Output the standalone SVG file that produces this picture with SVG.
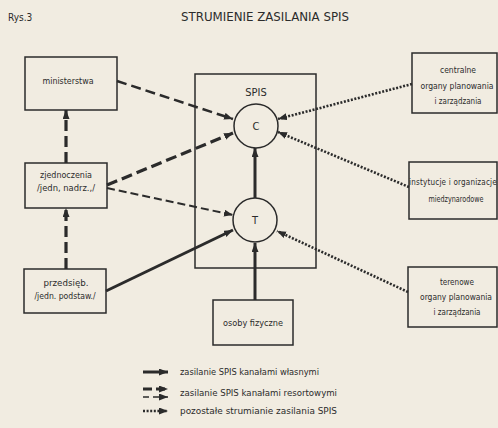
<svg xmlns="http://www.w3.org/2000/svg" width="498" height="428" viewBox="0 0 498 428">
<style>
.bg{fill:#f1ece1}
.box{fill:none;stroke:#2b2b2b;stroke-width:1.5}
.t{font-family:"Liberation Sans Narrow","DejaVu Sans Condensed","Liberation Sans",sans-serif;font-size:9px;fill:#2b2b2b;text-anchor:middle}
.tl{font-family:"Liberation Sans Narrow","DejaVu Sans Condensed","Liberation Sans",sans-serif;font-size:9px;fill:#2b2b2b}
.solid{fill:none;stroke:#2b2b2b;stroke-width:3;marker-end:url(#ah)}
.dash{fill:none;stroke:#2b2b2b;stroke-width:2.5;stroke-dasharray:10 5;marker-end:url(#ah)}
.dashb{fill:none;stroke:#2b2b2b;stroke-width:3.2;stroke-dasharray:11 5;marker-end:url(#ah)}
.dasht{fill:none;stroke:#2b2b2b;stroke-width:2;stroke-dasharray:8 4;marker-end:url(#ah)}
.dot{fill:none;stroke:#2b2b2b;stroke-width:2.6;stroke-dasharray:2 1.6;marker-end:url(#ah)}
</style>
<defs>
<marker id="ah" markerUnits="userSpaceOnUse" markerWidth="10" markerHeight="8" refX="9" refY="3.5" orient="auto">
<path d="M0,0 L9,3.5 L0,7 z" fill="#2b2b2b"/>
</marker>
</defs>
<rect class="bg" x="0" y="0" width="498" height="428"/>
<text class="tl" x="8" y="21" style="font-size:10px">Rys.3</text>
<text class="t" x="265" y="21" style="font-size:11.5px" textLength="168" lengthAdjust="spacingAndGlyphs">STRUMIENIE ZASILANIA SPIS</text>

<g id="ministerstwa">
<rect class="box" x="25" y="57" width="92" height="53"/>
<text class="t" x="68" y="84" textLength="51" lengthAdjust="spacingAndGlyphs">ministerstwa</text>
</g>
<g id="zjednoczenia">
<rect class="box" x="25" y="163" width="82" height="45"/>
<text class="t" x="66" y="178" textLength="52" lengthAdjust="spacingAndGlyphs">zjednoczenia</text>
<text class="t" x="66" y="191" textLength="58" lengthAdjust="spacingAndGlyphs">/jedn, nadrz.,/</text>
</g>
<g id="przedsieb">
<rect class="box" x="24" y="269" width="82" height="44"/>
<text class="t" x="66" y="286" textLength="45" lengthAdjust="spacingAndGlyphs">przedsięb.</text>
<text class="t" x="65" y="299" textLength="61" lengthAdjust="spacingAndGlyphs">/jedn. podstaw./</text>
</g>
<g id="spis">
<rect class="box" x="195" y="74" width="121" height="194"/>
<text class="t" x="256" y="96" style="font-size:11px">SPIS</text>
</g>
<g id="c">
<circle cx="256" cy="126" r="22" fill="none" stroke="#2b2b2b" stroke-width="1.5"/>
<text class="t" x="256" y="130" style="font-size:11px">C</text>
</g>
<g id="t">
<circle cx="255" cy="220" r="22" fill="none" stroke="#2b2b2b" stroke-width="1.5"/>
<text class="t" x="255" y="224" style="font-size:11px">T</text>
</g>
<g id="osoby">
<rect class="box" x="213" y="300" width="80" height="45"/>
<text class="t" x="253" y="326" textLength="60" lengthAdjust="spacingAndGlyphs">osoby fizyczne</text>
</g>
<g id="centralne">
<rect class="box" x="412" y="53" width="85" height="60"/>
<text class="t" x="458" y="73" textLength="36" lengthAdjust="spacingAndGlyphs">centralne</text>
<text class="t" x="457" y="89" textLength="73" lengthAdjust="spacingAndGlyphs">organy planowania</text>
<text class="t" x="458" y="104" textLength="47" lengthAdjust="spacingAndGlyphs">i zarządzania</text>
</g>
<g id="instytucje">
<rect class="box" x="409" y="162" width="88" height="57"/>
<text class="t" x="453" y="185" style="font-size:8px;letter-spacing:0.2px">instytucje i organizacje</text>
<text class="t" x="456" y="202" textLength="55" lengthAdjust="spacingAndGlyphs">miedzynarodowe</text>
</g>
<g id="terenowe">
<rect class="box" x="408" y="267" width="89" height="60"/>
<text class="t" x="457" y="285" textLength="34" lengthAdjust="spacingAndGlyphs">terenowe</text>
<text class="t" x="456" y="300" textLength="72" lengthAdjust="spacingAndGlyphs">organy planowania</text>
<text class="t" x="457" y="315" textLength="47" lengthAdjust="spacingAndGlyphs">i zarządzania</text>
</g>

<g id="connectors">
<path class="dash" d="M117,81 L233,119"/>
<path class="dashb" d="M107,185 L233,133"/>
<path class="dasht" d="M107,188 L233,215"/>
<path class="solid" d="M106,291 L233,230"/>
<path class="dot" d="M412,84 L278,119"/>
<path class="dot" d="M409,187 L278,132"/>
<path class="dot" d="M408,292 L277,231"/>
<path class="solid" d="M255,198 L255,148"/>
<path class="solid" d="M255,300 L255,243"/>
<path class="dashb" d="M66,269 L66,208"/>
<path class="dashb" d="M66,163 L66,110"/>
</g>

<g id="legend">
<path class="solid" d="M143,372 L168,372"/>
<path class="dashb" d="M143,389 L168,389" style="stroke-dasharray:9 4"/>
<path class="dasht" d="M143,397 L168,397" style="stroke-dasharray:6 4;stroke-width:1.6"/>
<path class="dot" d="M143,411 L168,411"/>
<text class="tl" x="180" y="375" textLength="139" lengthAdjust="spacingAndGlyphs">zasilanie SPIS kanałami własnymi</text>
<text class="tl" x="180" y="396" textLength="157" lengthAdjust="spacingAndGlyphs">zasilanie SPIS kanałami resortowymi</text>
<text class="tl" x="180" y="414" textLength="157" lengthAdjust="spacingAndGlyphs">pozostałe strumianie zasilania SPIS</text>
</g>
</svg>
